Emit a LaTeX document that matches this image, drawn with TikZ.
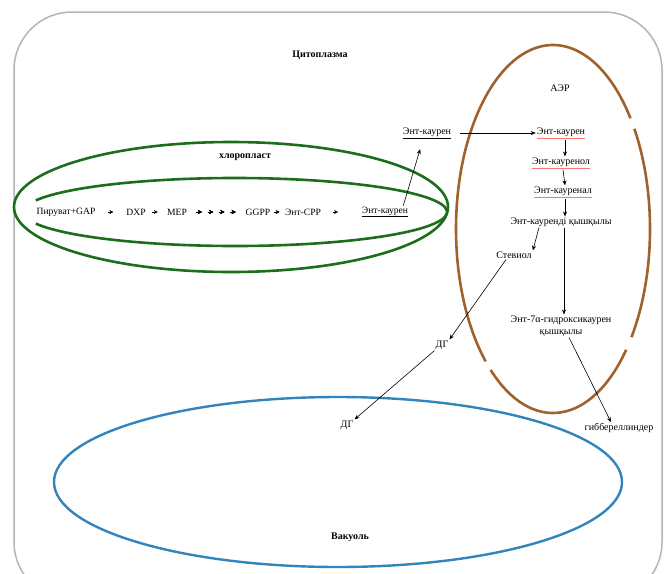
\documentclass[tikz,border=0pt]{standalone}
\usepackage{fontspec}
\setmainfont{Liberation Serif}
\usetikzlibrary{arrows.meta,decorations.markings}
\newcommand\redul[1]{{\color{red!55}\underline{\textcolor{black}{#1}}}}
\definecolor{cellgray}{HTML}{B4B4B4}
\definecolor{plastgreen}{HTML}{1C6E1C}
\definecolor{erbrown}{HTML}{A0622C}
\definecolor{vacblue}{HTML}{3383BC}

\begin{document}
\begin{tikzpicture}[x=1pt,y=-1pt,font=\fontsize{10}{12}\selectfont]
\tikzstyle{txt} = [inner sep=1pt, text centered]
\tikzstyle{chaintxt} = [inner sep=1pt, font=\fontsize{9.6}{11}\selectfont]
\tikzstyle{heading} = [inner sep=1pt, font=\fontsize{10}{12}\selectfont\bfseries]
\tikzstyle{arrow} = [semithick,-{Stealth[length=5pt,width=4pt]}]
\tikzstyle{tick} = [postaction={decorate}, decoration={markings, mark=at position #1 with {\draw[thin,-{Stealth[length=4pt,width=4pt]}] (-3pt,0) -- (2.5pt,0);}}]
\tikzstyle{cell} = [draw=cellgray, line width=1.5pt, rounded corners=58pt]
\tikzstyle{plast} = [draw=plastgreen, line width=2.6pt]
\tikzstyle{aer} = [draw=erbrown, line width=2.6pt]
\tikzstyle{vacuole} = [draw=vacblue, line width=2.4pt]
%
\useasboundingbox (0,0) rectangle (666,573);
\draw [cell] (14,12) rectangle (662,600);
%
\draw [plast] (231,207) ellipse [x radius=217, y radius=65];
\draw [plast] ([shift={(-160:212 and 34)}]235,212) arc [start angle=-160, end angle=160, x radius=212, y radius=34];
\draw [aer] ([shift={(-33:97 and 184)}]553,229) arc [start angle=-33, end angle=36, x radius=97, y radius=184];
\draw [aer] ([shift={(41:97 and 184)}]553,229) arc [start angle=41, end angle=130, x radius=97, y radius=184];
\draw [aer] ([shift={(134:97 and 184)}]553,229) arc [start angle=134, end angle=323, x radius=97, y radius=184];
\draw [vacuole] (338,482) ellipse [x radius=284, y radius=85];
%
\node (cyto) [heading] at (320,55) {Цитоплазма};
\node (aerlbl) [txt] at (560,88) {АЭР};
\node (chloro) [heading] at (245,157) {хлоропласт};
\node (vac) [heading] at (350,537) {Вакуоль};
%
\node (pyr)   [chaintxt] at (66,212) {Пируват+GAP};
\node (dxp)   [chaintxt] at (136,212) {DXP};
\node (mep)   [chaintxt] at (177,212) {MEP};
\node (ggpp)  [chaintxt] at (258,212) {GGPP};
\node (cpp)   [chaintxt] at (303,212) {Энт-CPP};
\node (kaur)  [chaintxt] at (385,212) {\underline{Энт-каурен}};
\node (outk)  [txt] at (427,133) {\underline{Энт-каурен}};
%
\node (er1)   [txt] at (561,133) {\redul{Энт-каурен}};
\node (er2)   [txt] at (561,163) {\redul{Энт-кауренол}};
\node (er3)   [txt] at (563,192) {\redul{Энт-кауренал}};
\node (er4)   [txt] at (561,222) {Энт-кауренді қышқылы};
\node (stev)  [txt] at (514,255) {Стевиол};
\node (hydr)  [txt, align=center] at (561,326) {Энт-7α-гидроксикаурен\\қышқылы};
\node (gib)   [txt] at (619,428) {гиббереллиндер};
\node (dg1)   [txt] at (442,345) {ДГ};
\node (dg2)   [txt] at (347,425) {ДГ};
%
\path [tick=.5] (pyr) -- (dxp);
\path [tick=.45] (dxp) -- (mep);
\path [tick=.2, tick=.4, tick=.6, tick=.8] (mep) -- (ggpp);
\path [tick=.45] (ggpp) -- (cpp);
\path [tick=.35] (cpp) -- (kaur);
\draw [arrow, shorten >=10pt] ([xshift=-6pt]kaur.north east) -- ([xshift=-4pt]outk.south);
\draw [arrow, shorten <=8pt] (outk) -- (er1);
\draw [arrow] ([xshift=4pt]er1.south) -- ([xshift=4pt]er2.north);
\draw [arrow] ([xshift=2pt]er2.south) -- ([xshift=2pt]er3.north);
\draw [arrow] ([xshift=2pt]er3.south) -- ([xshift=4pt]er4.north);
\draw [arrow] ([xshift=-22pt]er4.south) -- (stev.north east);
\draw [arrow] ([xshift=3pt]er4.south) -- ([xshift=3pt]hydr.north);
\draw [arrow] ([xshift=-8pt]stev.south) -- (dg1.north east);
\draw [arrow] (dg1.south west) -- (dg2.north east);
\draw [arrow] ([xshift=8pt]hydr.south) -- ([xshift=-8pt]gib.north);
\end{tikzpicture}
\end{document}
